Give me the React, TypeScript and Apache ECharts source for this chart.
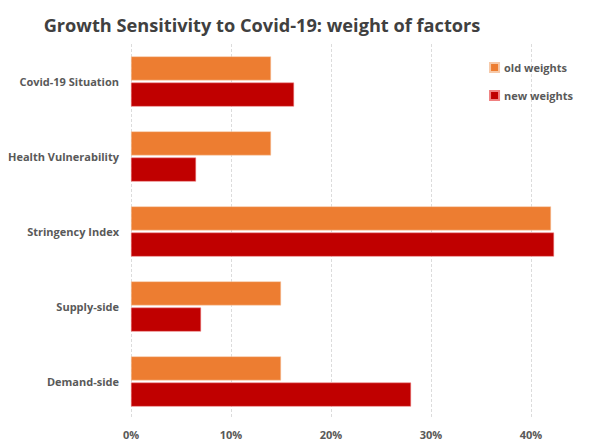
import React, { useEffect, useRef } from "react";
import * as echarts from "echarts";

const categories = ["Covid-19 Situation", "Health Vulnerability", "Stringency Index", "Supply-side", "Demand-side"];
const oldWeights = [14.0, 14.0, 42.0, 15.0, 15.0];
const newWeights = [16.3, 6.5, 42.3, 7.0, 28.0];
const seriesNames = ["old weights", "new weights"];

const FONT = "'Open Sans', sans-serif";
const GRAY = "#595959";

export default function App() {
  const ref = useRef<HTMLDivElement>(null);
  useEffect(() => {
    const chart = echarts.init(ref.current!, null, { renderer: "svg" });
    chart.setOption({
      animation: false,
      backgroundColor: "#fff",
      title: {
        text: "Growth Sensitivity to Covid-19: weight of factors",
        left: 257,
        textAlign: "center",
        top: 11,
        textStyle: { fontFamily: FONT, fontSize: 18.2, fontWeight: "bold", color: "#404040" },
      },
      legend: {
        orient: "vertical",
        right: 14,
        top: 57,
        itemWidth: 9,
        itemHeight: 9,
        itemGap: 17,
        icon: "rect",
        textStyle: { fontFamily: FONT, fontSize: 11, fontWeight: "bold", color: GRAY },
      },
      grid: { left: 131, right: 11, top: 44, bottom: 24 },
      xAxis: {
        type: "value",
        min: 0,
        max: 45,
        interval: 10,
        axisLine: { show: false },
        axisTick: { show: false },
        axisLabel: {
          formatter: "{value}%",
          showMaxLabel: false,
          fontFamily: FONT,
          fontSize: 11,
          fontWeight: "bold",
          color: GRAY,
          margin: 10,
        },
        splitLine: { show: true, showMaxLine: false, lineStyle: { color: "#dcdcdc", type: [3, 2], width: 1 } },
      },
      yAxis: {
        type: "category",
        data: categories,
        inverse: true,
        axisLine: { show: false },
        axisTick: { show: false },
        axisLabel: { fontFamily: FONT, fontSize: 11, fontWeight: "bold", color: GRAY, margin: 12 },
      },
      series: [
        {
          name: seriesNames[0],
          type: "bar",
          data: oldWeights,
          barWidth: 24,
          barGap: "9%",
          itemStyle: { color: "#ED7D31", borderColor: "#f6c9a8", borderWidth: 0.5 },
        },
        {
          name: seriesNames[1],
          type: "bar",
          data: newWeights,
          barWidth: 24,
          barGap: "9%",
          itemStyle: { color: "#C00000", borderColor: "#f08080", borderWidth: 0.5 },
        },
      ],
    });
    return () => chart.dispose();
  }, []);
  return <div ref={ref} style={{ width: 592, height: 443, position: "absolute", left: 0, top: 0 }} />;
}
